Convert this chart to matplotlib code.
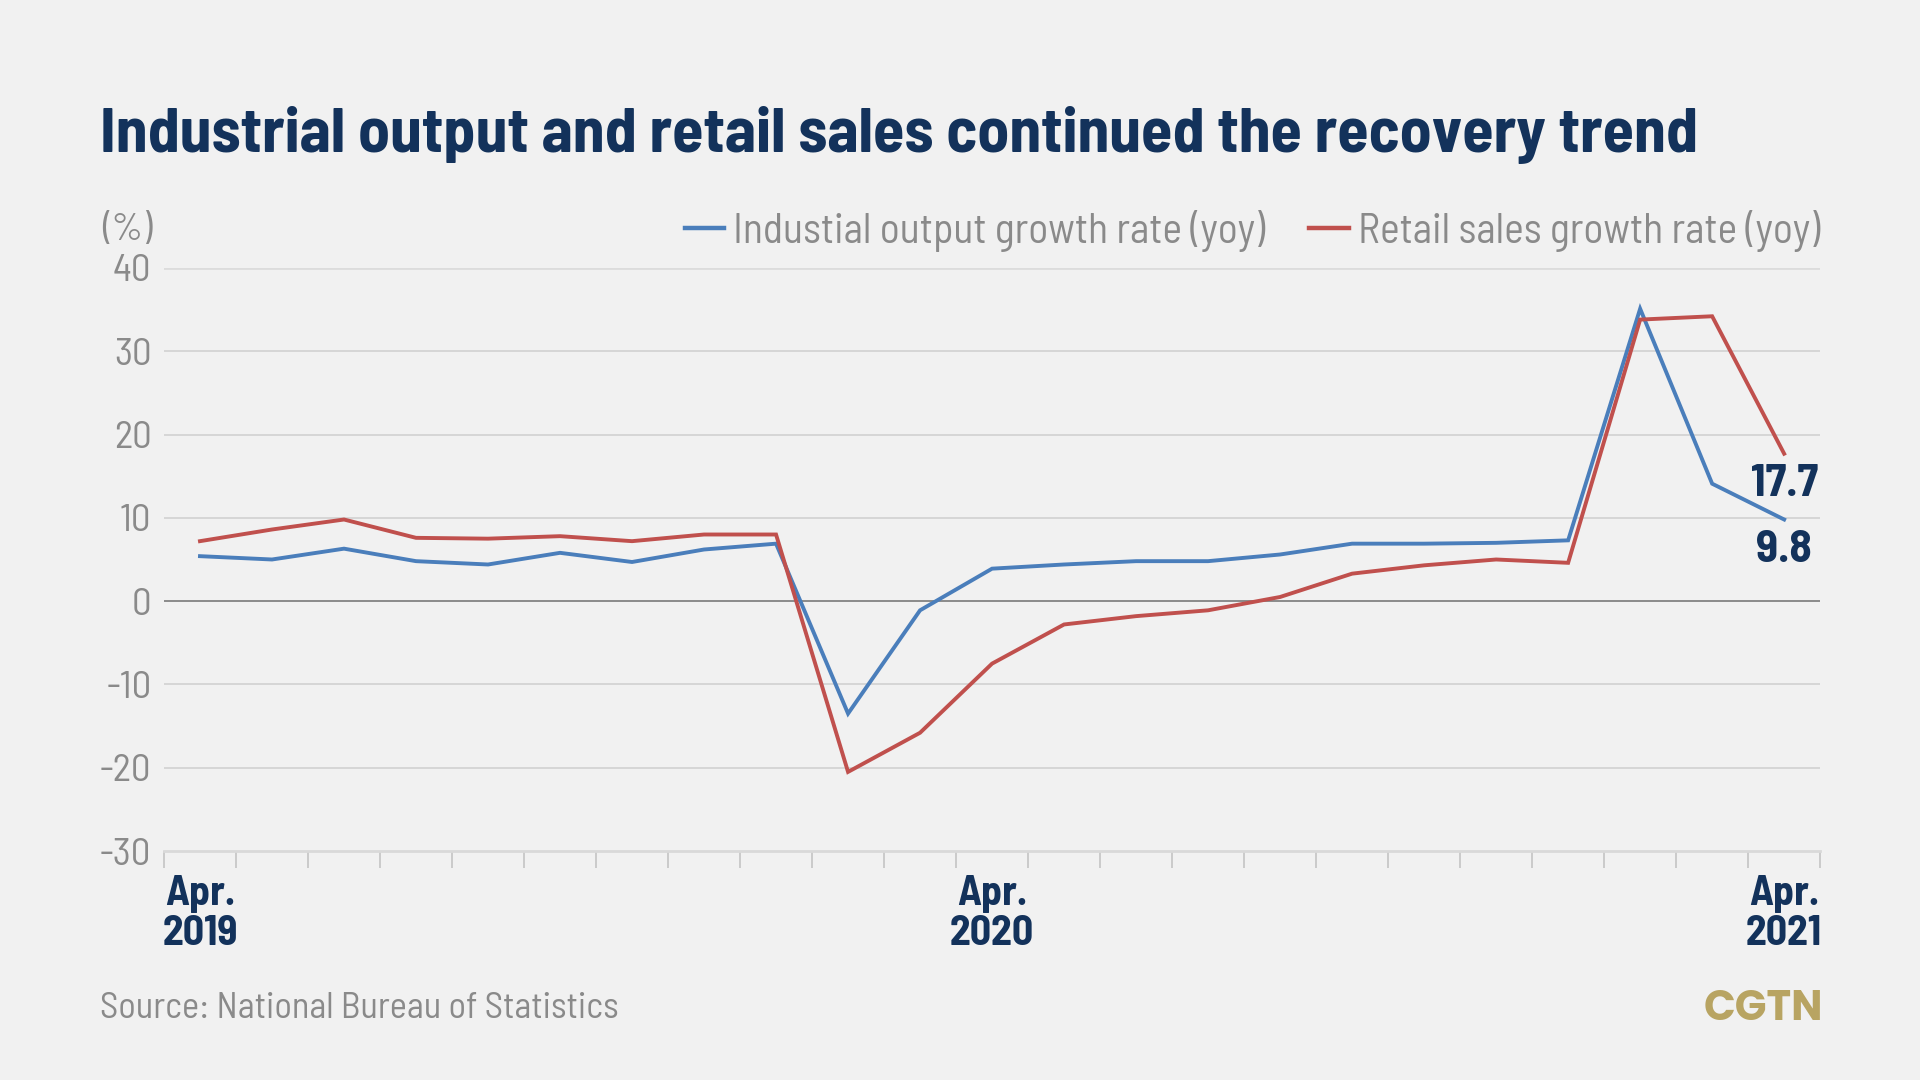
import matplotlib
matplotlib.use("Agg")
import matplotlib.pyplot as plt
import numpy as np

# ---- data ----
months = ["Apr 2019", "May 2019", "Jun 2019", "Jul 2019", "Aug 2019", "Sep 2019",
          "Oct 2019", "Nov 2019", "Dec 2019", "Jan-Feb 2020", "Mar 2020", "Apr 2020",
          "May 2020", "Jun 2020", "Jul 2020", "Aug 2020", "Sep 2020", "Oct 2020",
          "Nov 2020", "Dec 2020", "Jan-Feb 2021", "Mar 2021", "Apr 2021"]
industrial = [5.4, 5.0, 6.3, 4.8, 4.4, 5.8, 4.7, 6.2, 6.9, -13.5, -1.1, 3.9,
              4.4, 4.8, 4.8, 5.6, 6.9, 6.9, 7.0, 7.3, 35.1, 14.1, 9.8]
retail = [7.2, 8.6, 9.8, 7.6, 7.5, 7.8, 7.2, 8.0, 8.0, -20.5, -15.8, -7.5,
          -2.8, -1.8, -1.1, 0.5, 3.3, 4.3, 5.0, 4.6, 33.8, 34.2, 17.7]
x_label_idx = [0, 11, 22]
x_labels = ["Apr.\n2019", "Apr.\n2020", "Apr.\n2021"]
y_ticks = [-30, -20, -10, 0, 10, 20, 30, 40]
series_names = ["Industial output growth rate (yoy)", "Retail sales growth rate (yoy)"]
end_labels = ["9.8", "17.7"]

# ---- style ----
BG = "#f1f1f1"
NAVY = "#13325b"
GRAY = "#8a8a8a"
BLUE = "#4a7ebb"
RED = "#c0504d"
SEMI = ["Barlow Semi Condensed", "Barlow Condensed", "Roboto Condensed", "DejaVu Sans"]
plt.rcParams["font.family"] = SEMI

fig = plt.figure(figsize=(19.2, 10.8), dpi=100, facecolor=BG)
ax = fig.add_axes([0.0854, 0.2120, 0.948 - 0.0854, 0.7519 - 0.2120], facecolor=BG)

x = np.arange(len(months))
ax.plot(x, industrial, color=BLUE, lw=2.8, label=series_names[0], solid_joinstyle="miter", zorder=3)
ax.plot(x, retail, color=RED, lw=2.8, label=series_names[1], solid_joinstyle="miter", zorder=3)

ax.set_xlim(-0.5, len(months) - 0.5)
ax.set_ylim(-30, 40)

# y axis
ax.set_yticks(y_ticks)
ax.set_yticklabels([str(v) for v in y_ticks])
ax.tick_params(axis="y", length=0, pad=9, labelsize=28, labelcolor=GRAY)
for v in y_ticks:
    if v == 0:
        ax.axhline(v, color="#7a7a7a", lw=1.2, zorder=2)
    elif v == 40:
        ax.axhline(v, color="#dcdcdc", lw=2, zorder=1)
    elif v != -30:
        ax.axhline(v, color="#cfcfcf", lw=1.1, zorder=1)

# x axis: ticks at category boundaries, labels at chosen months
ax.set_xticks(np.arange(-0.5, len(months), 1.0))
ax.set_xticklabels([])
ax.tick_params(axis="x", which="major", length=12, width=1.3, color="#c8c8c8", direction="out")
ax.set_xticks(x_label_idx, minor=True)
ax.set_xticklabels(x_labels, minor=True)
ax.tick_params(axis="x", which="minor", length=0, pad=17, labelsize=30, labelcolor=NAVY)
for lbl in ax.get_xticklabels(minor=True):
    lbl.set_fontweight("bold")
    lbl.set_linespacing(1.08)

for s in ["top", "right", "left"]:
    ax.spines[s].set_visible(False)
ax.spines["bottom"].set_color("#d9d9d9")
ax.spines["bottom"].set_linewidth(2)

# end labels
ax.annotate(end_labels[1], (x[-1], retail[-1]), xytext=(0, -22), textcoords="offset points",
            ha="center", va="center", fontsize=33, fontweight="bold", color=NAVY)
ax.annotate(end_labels[0], (x[-1], industrial[-1]), xytext=(0, -22), textcoords="offset points",
            ha="center", va="center", fontsize=33, fontweight="bold", color=NAVY)

# legend
leg = ax.legend(loc="lower right", bbox_to_anchor=(1.0, 1.028), ncol=2, frameon=False,
                prop={"size": 30, "family": SEMI},
                handlelength=0.95, handletextpad=0.22, columnspacing=1.05,
                borderpad=0, borderaxespad=0)
for t in leg.get_texts():
    t.set_color(GRAY)
for h in leg.get_lines():
    h.set_linewidth(3.2)

# titles and notes
fig.text(0.052, 0.859, "Industrial output and retail sales continued the recovery trend",
         ha="left", va="baseline", fontsize=46, fontweight="bold", color=NAVY)
fig.text(0.0797, 0.787, "(%)", ha="right", va="center", fontsize=28, color=GRAY)
fig.text(0.052, 0.066, "Source: National Bureau of Statistics", ha="left", va="center",
         fontsize=26.2, color=GRAY)
fig.text(0.9495, 0.0645, "CGTN", ha="right", va="center", fontsize=30, fontweight="bold",
         color="#b8a462", family=["Poppins", "Roboto", "DejaVu Sans"])

fig.savefig("out.png", dpi=100, facecolor=BG)
